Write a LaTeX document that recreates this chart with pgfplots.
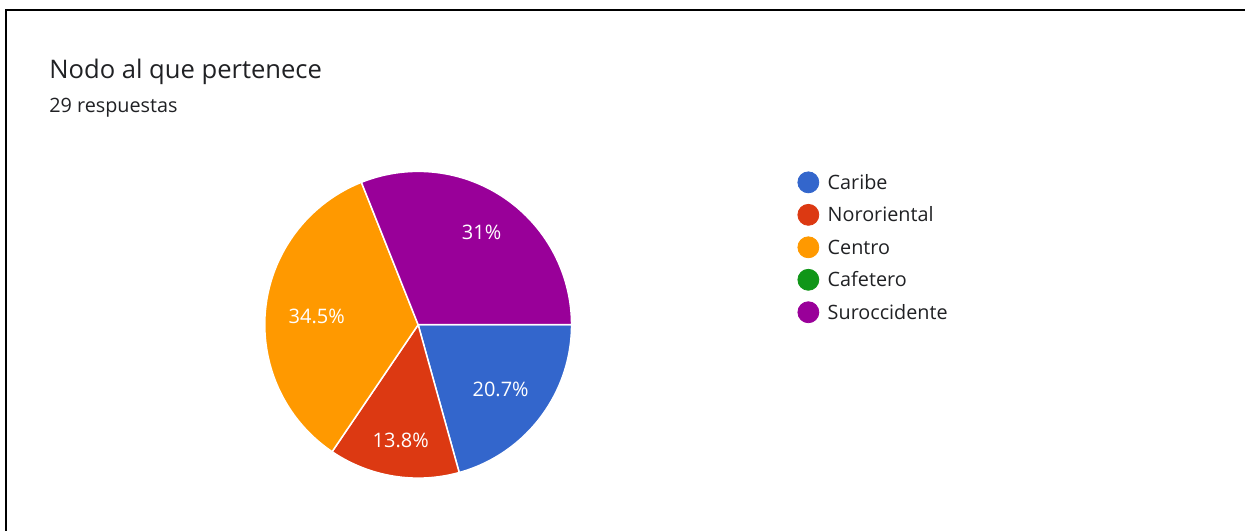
\documentclass[border=0pt]{standalone}
\usepackage{pgfplots}
\pgfplotsset{compat=1.18}
\usepackage{pgfplotstable}
\usepackage{fontspec}
\setmainfont{Open Sans}

% Google Forms palette
\definecolor{slice0}{HTML}{3366CC}
\definecolor{slice1}{HTML}{DC3912}
\definecolor{slice2}{HTML}{FF9900}
\definecolor{slice3}{HTML}{109618}
\definecolor{slice4}{HTML}{990099}
\definecolor{txt}{HTML}{202124}

% respuestas por nodo (29 en total); lx/ly = posición de la etiqueta, ry = fila de la leyenda
\pgfplotstableread{
name         count pct  lx  ly  ry
Caribe       6     20.7 501 141 348.5
Nororiental  4     13.8 401 90  316
Centro       10    34.5 317 214 283.5
Cafetero     0     0    0   0   251
Suroccidente 9     31   482 298 218.5
}\piedata

% ángulos acumulados (sentido horario desde las 3 en punto)
\xdef\angnow{0}
\foreach \i in {0,...,4}{
  \pgfplotstablegetelem{\i}{count}\of\piedata
  \pgfmathsetmacro\angnext{\angnow-360*\pgfplotsretval/29}
  \expandafter\xdef\csname angA\i\endcsname{\angnow}
  \expandafter\xdef\csname angB\i\endcsname{\angnext}
  \xdef\angnow{\angnext}
  \pgfplotstablegetelem{\i}{pct}\of\piedata
  \expandafter\xdef\csname pct\i\endcsname{\pgfplotsretval}
  \pgfplotstablegetelem{\i}{lx}\of\piedata
  \expandafter\xdef\csname lx\i\endcsname{\pgfplotsretval}
  \pgfplotstablegetelem{\i}{ly}\of\piedata
  \expandafter\xdef\csname ly\i\endcsname{\pgfplotsretval}
  \pgfplotstablegetelem{\i}{ry}\of\piedata
  \expandafter\xdef\csname ry\i\endcsname{\pgfplotsretval}
  \pgfplotstablegetelem{\i}{name}\of\piedata
  \expandafter\xdef\csname nm\i\endcsname{\pgfplotsretval}
}

\begin{document}
\begin{tikzpicture}
\begin{axis}[
    hide axis,
    scale only axis,
    width=623pt, height=265.5pt,
    xmin=0, xmax=1246, ymin=0, ymax=531,
    clip=false,
]
\path (axis cs:0,0) rectangle (axis cs:1246,531);

% marco de la captura
\draw[black, line width=1pt] (axis cs:6.5,0) -- (axis cs:6.5,520.5) -- (axis cs:1246,520.5);

% títulos
\node[anchor=base west, inner sep=0pt, font=\fontsize{12.8}{14}\selectfont, text=txt] at (axis cs:49,452) {Nodo al que pertenece};
\node[anchor=base west, inner sep=0pt, font=\fontsize{9.9}{11}\selectfont, text=txt] at (axis cs:49,418.5) {29 respuestas};

% sectores
\pgfplotsinvokeforeach{0,1,2,4}{
  \filldraw[fill=slice#1, draw=white, line width=0.75pt]
    (axis cs:418.5,206) -- ++(\csname angA#1\endcsname:76.75pt)
    arc[start angle=\csname angA#1\endcsname, end angle=\csname angB#1\endcsname, radius=76.75pt] -- cycle;
}
\pgfplotsinvokeforeach{0,1,2,4}{
  \node[text=white, font=\fontsize{10}{11}\selectfont] at (axis cs:\csname lx#1\endcsname,\csname ly#1\endcsname) {\csname pct#1\endcsname\%};
}

% leyenda
\pgfplotsinvokeforeach{0,...,4}{
  \edef\legrow{\noexpand\addplot[only marks, mark=*, color=slice#1, mark size=5.25pt]
    coordinates {(809,\csname ry#1\endcsname)};}
  \legrow
  \node[anchor=base west, inner sep=0pt, text=txt, font=\fontsize{9.9}{11}\selectfont]
    at (axis cs:828,\csname ry#1\endcsname-6.8) {\csname nm#1\endcsname};
}

\end{axis}
\end{tikzpicture}
\end{document}
